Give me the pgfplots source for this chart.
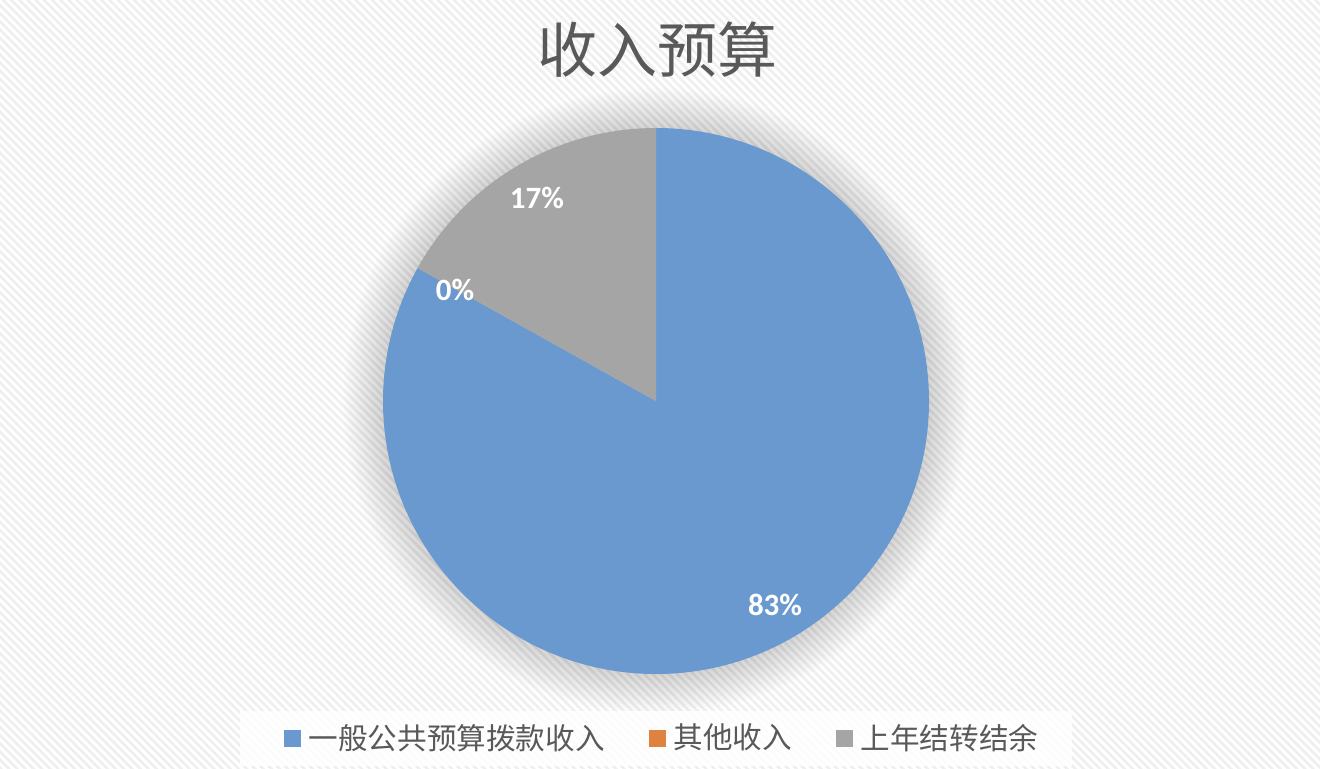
\documentclass[border=0pt]{standalone}
\usepackage{pgfplots}
\pgfplotsset{compat=1.18}
\usepackage{pgfplotstable}
\usepackage{fontspec}
\setmainfont{Carlito}
\newfontfamily\cjk{Noto Sans CJK SC}
\usetikzlibrary{patterns.meta}
\definecolor{pieblue}{HTML}{6A99D0}
\definecolor{pieorange}{HTML}{E0823F}
\definecolor{piegray}{HTML}{A5A5A5}
\definecolor{txtgray}{HTML}{595959}
\definecolor{stripe}{HTML}{EFEFEF}
\pgfplotstableread{
idx value
0 83.1
1 0.0
2 16.9
}\piedata
\pgfplotstablegetelem{0}{value}\of\piedata \let\va\pgfplotsretval
\pgfplotstablegetelem{1}{value}\of\piedata \let\vb\pgfplotsretval
\pgfplotstablegetelem{2}{value}\of\piedata \let\vc\pgfplotsretval
\pgfmathsetmacro\aA{90-3.6*\va}
\pgfmathsetmacro\aB{\aA-3.6*\vb}
\pgfmathsetmacro\aC{\aB-3.6*\vc}
\begin{document}%
\begin{tikzpicture}
\begin{axis}[
  x=0.5pt, y=0.5pt,
  xmin=0, xmax=1320, ymin=0, ymax=768,
  hide axis, clip=false,
  legend columns=3,
  legend style={
    at={(axis cs:662,30)}, anchor=center,
    draw=none, fill=none,
    font=\cjk\fontsize{14.8pt}{16pt}\selectfont,
    text=txtgray,
    /tikz/every odd column/.append style={column sep=3pt},
    /tikz/every even column/.append style={column sep=21pt},
    nodes={inner sep=1pt},
  },
]
% background
\fill[white] (axis cs:0,0) rectangle (axis cs:1320,768);
\fill[pattern={Lines[angle=-45,distance=2.9pt,line width=1.3pt]}, pattern color=stripe]
  (axis cs:0,0) rectangle (axis cs:1320,768);
% title
\node[text=txtgray, font=\cjk\fontsize{30pt}{32pt}\selectfont] at (axis cs:657,718) {收入预算};
% shadow glow
\pgfplotsinvokeforeach{1,...,20}{
  \fill[black, opacity=0.009] (axis cs:656,367) circle[radius={136.5pt+#1pt}];
}
% slices
\fill[pieblue] (axis cs:656,367) -- ++(90:136.5pt) arc[start angle=90, end angle=\aA, radius=136.5pt] -- cycle;
\fill[piegray] (axis cs:656,367) -- ++(\aB:136.5pt) arc[start angle=\aB, end angle=\aC, radius=136.5pt] -- cycle;
% labels
\node[white, font=\bfseries\fontsize{15.5pt}{17pt}\selectfont] at (axis cs:775,163) {83\%};
\node[white, font=\bfseries\fontsize{15.5pt}{17pt}\selectfont] at (axis cs:455,478) {0\%};
\node[white, font=\bfseries\fontsize{15.5pt}{17pt}\selectfont] at (axis cs:537,570) {17\%};
% legend box
\fill[white, opacity=0.85] (axis cs:240,2) rectangle (axis cs:1072,57);
\addlegendimage{legend image code/.code={\fill[pieblue] (0pt,-4pt) rectangle (8pt,4pt);}}
\addlegendentry{一般公共预算拨款收入}
\addlegendimage{legend image code/.code={\fill[pieorange] (0pt,-4pt) rectangle (8pt,4pt);}}
\addlegendentry{其他收入}
\addlegendimage{legend image code/.code={\fill[piegray] (0pt,-4pt) rectangle (8pt,4pt);}}
\addlegendentry{上年结转结余}
\end{axis}
\pgfresetboundingbox
\path (current axis.south west) rectangle (current axis.north east);
\end{tikzpicture}%
\end{document}
